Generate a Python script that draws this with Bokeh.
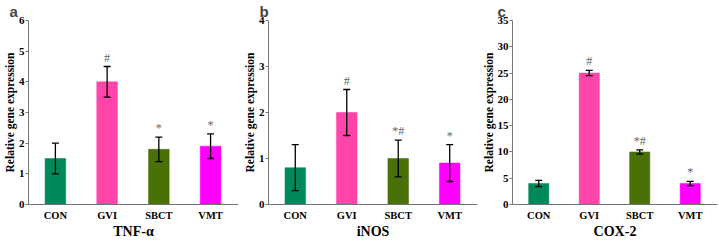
from bokeh.plotting import figure
from bokeh.layouts import row
from bokeh.models import Range1d, FixedTicker, Whisker, ColumnDataSource
from bokeh.embed import file_html
from bokeh.resources import INLINE

categories = ["CON", "GVI", "SBCT", "VMT"]
colors = ["#00875A", "#FF44AA", "#4A7008", "#FF00FF"]

tnf_values = [1.5, 4.0, 1.8, 1.9]
tnf_errors = [0.5, 0.5, 0.4, 0.4]
tnf_marks = ["", "#", "*", "*"]

inos_values = [0.8, 2.0, 1.0, 0.9]
inos_errors = [0.5, 0.5, 0.4, 0.4]
inos_marks = ["", "#", "*#", "*"]

cox_values = [4.0, 25.0, 10.0, 4.0]
cox_errors = [0.6, 0.5, 0.4, 0.4]
cox_marks = ["", "#", "*#", "*"]

panels = [
    ("a", "TNF-α", tnf_values, tnf_errors, tnf_marks, 6, 1, 240, 23, -19),
    ("b", "iNOS", inos_values, inos_errors, inos_marks, 4, 1, 239, 25, -9),
    ("c", "COX-2", cox_values, cox_errors, cox_marks, 35, 5, 240, 27, -15),
]

serif = "Liberation Serif"
figs = []
for letter, gene, vals, errs, marks, ymax, step, w, left, toff in panels:
    xs = list(range(len(categories)))
    src = ColumnDataSource(dict(
        x=xs, top=vals, color=colors,
        upper=[v + e for v, e in zip(vals, errs)],
        lower=[v - e for v, e in zip(vals, errs)],
        mark=marks,
    ))
    p = figure(width=w, height=241, output_backend="svg", toolbar_location=None,
               x_range=Range1d(-0.52, 3.54), y_range=Range1d(0, ymax),
               min_border_top=18, min_border_bottom=0, min_border_left=left,
               min_border_right=2)
    p.title.text = letter
    p.title.text_font = "Liberation Sans"
    p.title.text_font_style = "bold"
    p.title.text_font_size = "15px"
    p.title.align = "left"
    p.title.offset = toff
    p.title.standoff = 1
    p.outline_line_color = None
    p.grid.grid_line_color = None
    p.vbar(x="x", top="top", width=0.4, bottom=0, source=src,
           fill_color="color", line_color="color", line_alpha=0.5)
    wh = Whisker(base="x", upper="upper", lower="lower", source=src,
                 line_color="black", line_width=1.3, level="overlay")
    wh.upper_head.size = 7
    wh.lower_head.size = 7
    wh.upper_head.line_width = 1.3
    wh.lower_head.line_width = 1.3
    p.add_layout(wh)
    p.text(x="x", y="upper", text="mark", source=src, text_align="center",
           text_baseline="bottom", y_offset=-2, text_font_size="12px",
           text_color="#666666", text_font=serif)

    p.yaxis.ticker = FixedTicker(ticks=list(range(0, ymax + 1, step)))
    p.yaxis.axis_label = "Relative gene expression"
    p.yaxis.axis_label_text_font = serif
    p.yaxis.axis_label_text_font_style = "bold"
    p.yaxis.axis_label_text_font_size = "11.5px"
    p.yaxis.axis_label_text_color = "black"
    p.yaxis.axis_label_standoff = 0
    p.yaxis.major_label_text_font = serif
    p.yaxis.major_label_text_font_style = "bold"
    p.yaxis.major_label_text_font_size = "11px"
    p.yaxis.major_label_text_color = "black"
    p.yaxis.major_label_standoff = 1
    p.yaxis.major_tick_in = 0
    p.yaxis.major_tick_out = 3
    p.yaxis.minor_tick_line_color = None
    p.yaxis.axis_line_color = "#777777"
    p.yaxis.major_tick_line_color = "#777777"

    p.xaxis.ticker = FixedTicker(ticks=xs)
    p.xaxis.major_label_overrides = {i: c for i, c in enumerate(categories)}
    p.xaxis.axis_label = gene
    p.xaxis.axis_label_text_font = serif
    p.xaxis.axis_label_text_font_style = "bold"
    p.xaxis.axis_label_text_font_size = "14px"
    p.xaxis.axis_label_text_color = "black"
    p.xaxis.axis_label_standoff = 0
    p.xaxis.major_label_text_font = serif
    p.xaxis.major_label_text_font_style = "bold"
    p.xaxis.major_label_text_font_size = "10.5px"
    p.xaxis.major_label_text_color = "black"
    p.xaxis.major_label_standoff = 5
    p.xaxis.major_tick_in = 0
    p.xaxis.major_tick_out = 0
    p.xaxis.minor_tick_line_color = None
    p.xaxis.axis_line_color = "#777777"
    figs.append(p)

layout = row(*figs, spacing=0)
open("out.html", "w").write(file_html(layout, INLINE))
